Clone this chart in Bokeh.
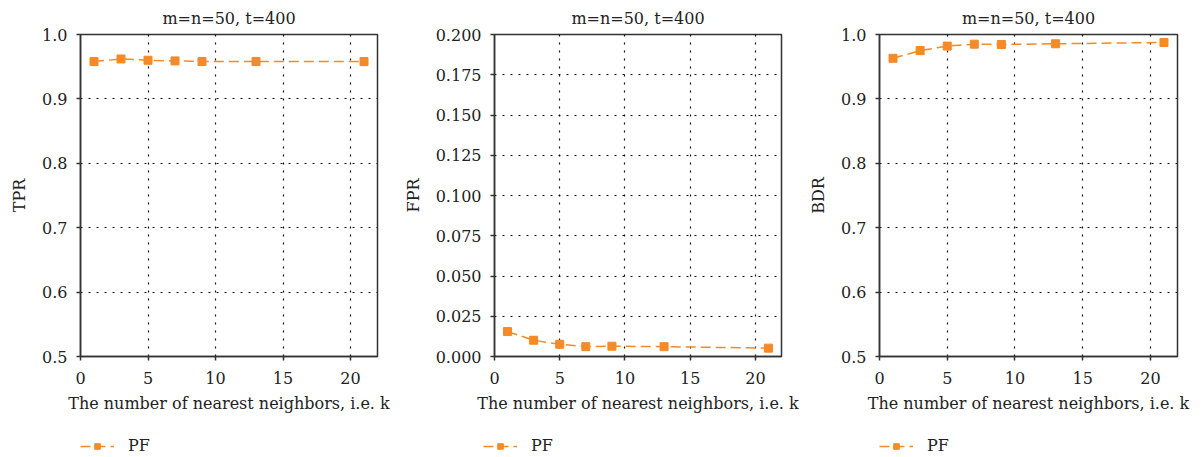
from bokeh.plotting import figure
from bokeh.layouts import row, column
from bokeh.models import Range1d, Legend, LegendItem, FixedTicker, NumeralTickFormatter
from bokeh.embed import file_html
from bokeh.resources import INLINE

k = [1, 3, 5, 7, 9, 13, 21]
tpr = [0.958, 0.962, 0.960, 0.959, 0.958, 0.958, 0.958]
fpr = [0.0155, 0.0101, 0.0076, 0.0061, 0.0064, 0.0061, 0.0052]
bdr = [0.963, 0.975, 0.982, 0.985, 0.9845, 0.9856, 0.9876]

titles = ["m=n=50, t=400", "m=n=50, t=400", "m=n=50, t=400"]
ylabels = ["TPR", "FPR", "BDR"]
xlabel = "The number of nearest neighbors, i.e. k"
series_name = "PF"
xticks = [0, 5, 10, 15, 20]
yticks_rate = [0.5, 0.6, 0.7, 0.8, 0.9, 1.0]
yticks_fpr = [0.0, 0.025, 0.05, 0.075, 0.1, 0.125, 0.15, 0.175, 0.2]

FONT = "DejaVu Serif"
ORANGE = "#F58A26"
DARK = "#333333"
LINE_DASH = "10 5"
MAIN_H = 425
LEG_H = 32


def style_series(p, values):
    ln = p.line(k, values, line_color=ORANGE, line_width=1.5, line_dash=LINE_DASH)
    sc = p.scatter(k, values, marker="square", size=8, fill_color=ORANGE, line_color=ORANGE)
    return ln, sc


def make(values, title, ylabel, yrange, yticks, fmt, width, bl, br):
    p = figure(width=width, height=MAIN_H, output_backend="svg", toolbar_location=None,
               x_range=Range1d(0, 22), y_range=Range1d(*yrange),
               min_border_left=bl, min_border_right=br, min_border_top=33, min_border_bottom=69)
    p.title.text = title
    p.title.align = "center"
    p.title.text_font = FONT
    p.title.text_font_size = "16px"
    p.title.text_font_style = "normal"
    p.title.text_color = "#222222"
    p.title.standoff = 13

    p.outline_line_color = DARK
    p.outline_line_width = 1.5
    p.background_fill_color = "white"
    p.border_fill_color = "white"

    for ax in (p.xaxis[0], p.yaxis[0]):
        ax.axis_line_color = DARK
        ax.axis_line_width = 1.5
        ax.major_tick_line_color = DARK
        ax.major_tick_line_width = 1.5
        ax.major_tick_out = 4
        ax.major_tick_in = 0
        ax.minor_tick_line_color = None
        ax.major_label_text_font = FONT
        ax.major_label_text_font_size = "16px"
        ax.major_label_text_color = "#222222"
        ax.axis_label_text_font = FONT
        ax.axis_label_text_font_size = "16px"
        ax.axis_label_text_font_style = "normal"
        ax.axis_label_text_color = "#222222"

    p.xaxis.ticker = FixedTicker(ticks=xticks)
    p.yaxis.ticker = FixedTicker(ticks=yticks)
    p.yaxis.formatter = NumeralTickFormatter(format=fmt)
    p.xaxis.axis_label = xlabel
    p.yaxis.axis_label = ylabel
    p.xaxis.major_label_standoff = 11
    p.yaxis.major_label_standoff = 9
    p.xaxis.axis_label_standoff = 7
    p.yaxis.axis_label_standoff = 10

    for g in (p.xgrid[0], p.ygrid[0]):
        g.grid_line_color = "#111111"
        g.grid_line_dash = "2 6"
        g.grid_line_width = 1.2

    style_series(p, values)
    return p


def make_legend(values, width, lx):
    # legend strip below each panel; its series sits outside the visible range
    q = figure(width=width, height=LEG_H, output_backend="svg", toolbar_location=None,
               x_range=Range1d(0, 22), y_range=Range1d(100, 101),
               x_axis_location=None, y_axis_location=None,
               min_border_left=0, min_border_right=0, min_border_top=0, min_border_bottom=0)
    q.outline_line_color = None
    q.xgrid.visible = False
    q.ygrid.visible = False
    ln, sc = style_series(q, values)
    legend = Legend(items=[LegendItem(label=series_name, renderers=[ln, sc])],
                    location=(lx, 0), orientation="horizontal",
                    border_line_alpha=0, background_fill_alpha=0,
                    label_text_font=FONT, label_text_font_size="16px", label_text_color="#222222",
                    glyph_width=34, glyph_height=14, label_standoff=14,
                    margin=0, padding=2, spacing=0)
    q.add_layout(legend)
    return q


p1 = make(tpr, titles[0], ylabels[0], (0.5, 1.0), yticks_rate, "0.0", 400, 80, 23)
p2 = make(fpr, titles[1], ylabels[1], (0.0, 0.2), yticks_fpr, "0.000", 400, 83, 19)
p3 = make(bdr, titles[2], ylabels[2], (0.5, 1.0), yticks_rate, "0.0", 404, 79, 27)
l1 = make_legend(tpr, 400, 78)
l2 = make_legend(fpr, 400, 81)
l3 = make_legend(bdr, 404, 77)

layout = column(row(p1, p2, p3), row(l1, l2, l3))
open("out.html", "w").write(file_html(layout, INLINE))
